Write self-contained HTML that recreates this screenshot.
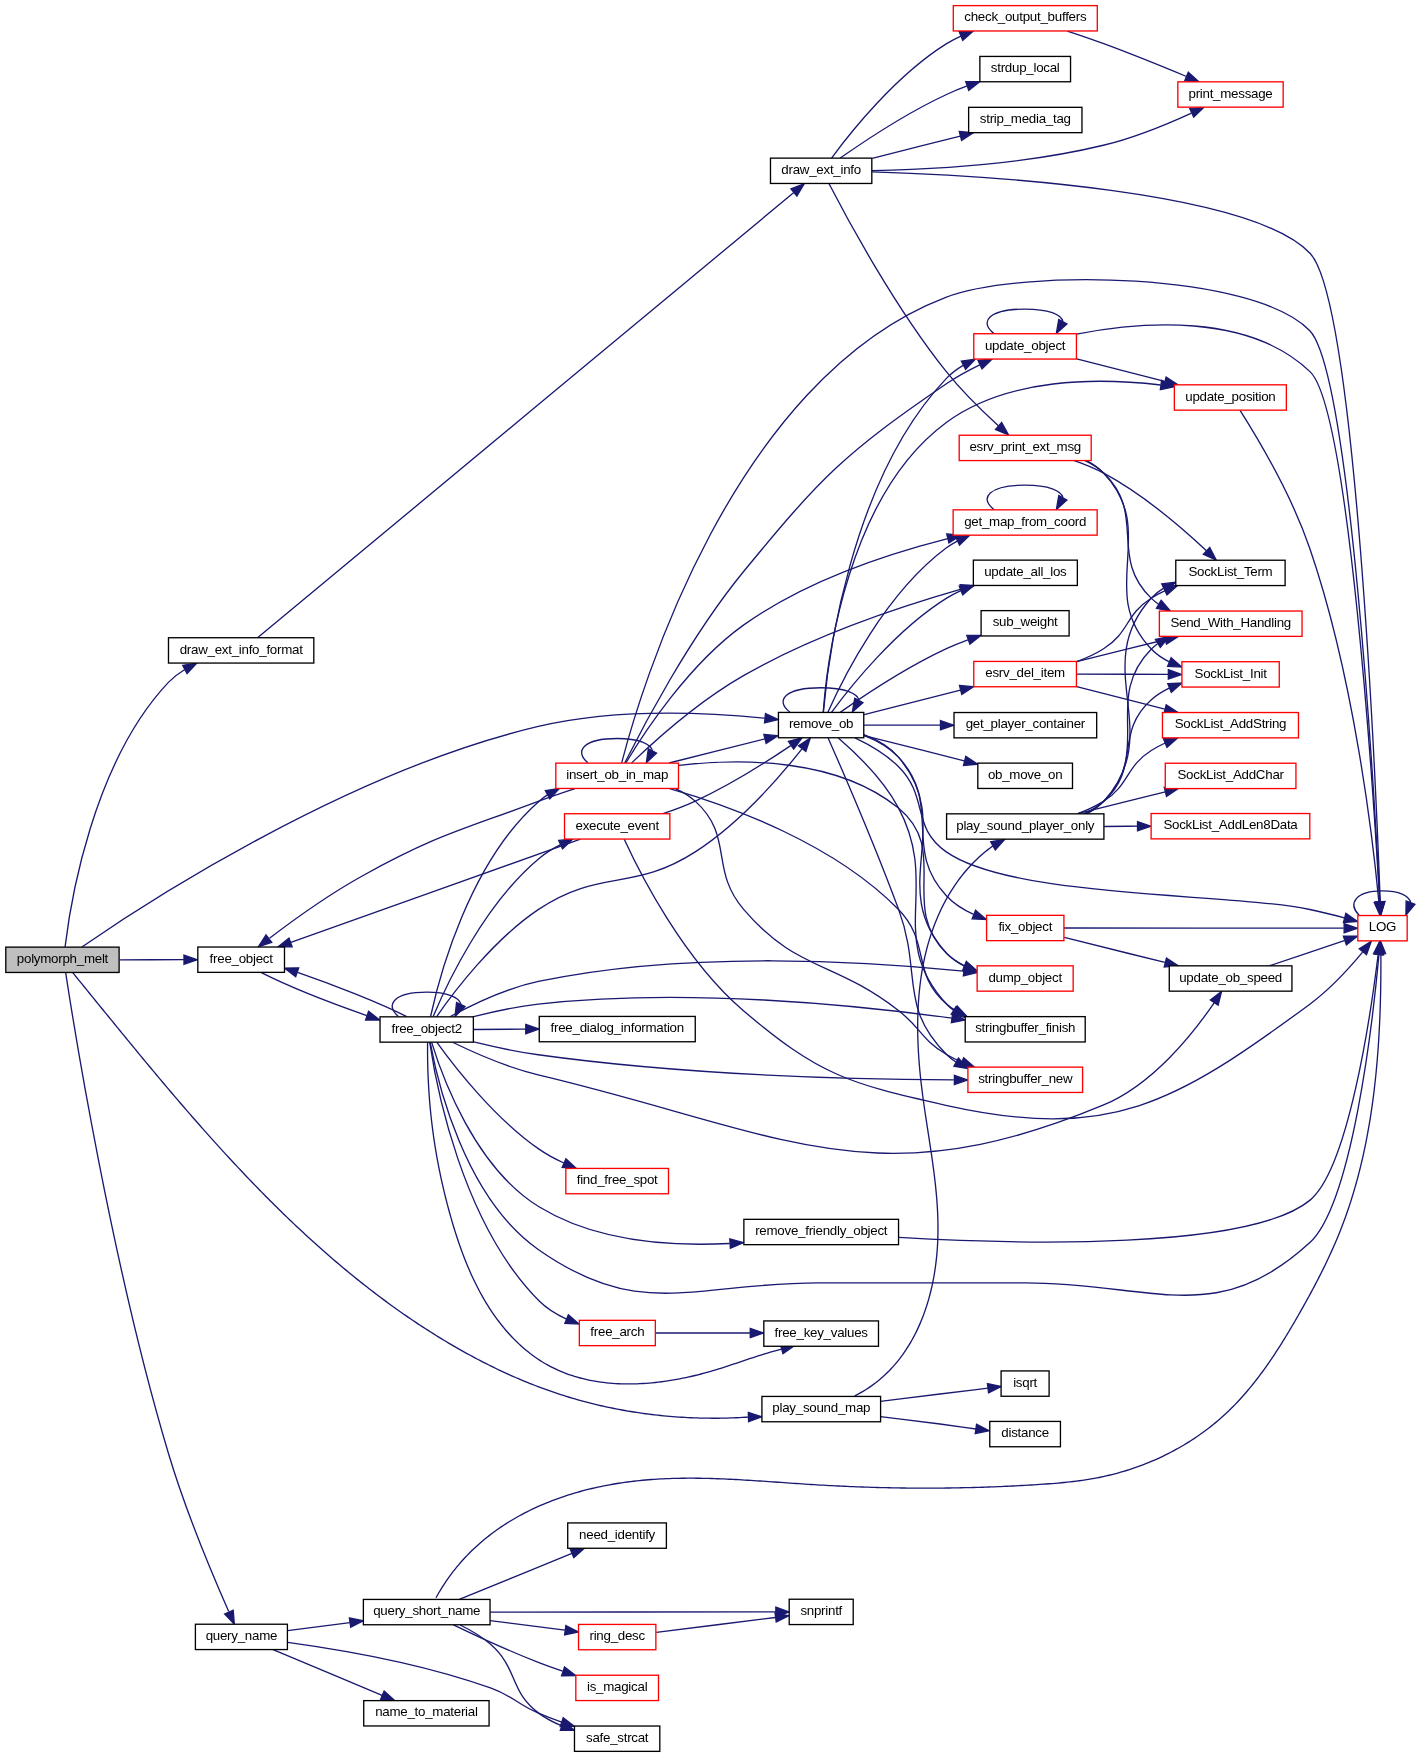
<!DOCTYPE html>
<html><head><meta charset="utf-8"><title>polymorph_melt call graph</title>
<style>
html,body{margin:0;padding:0;background:#fff;overflow:hidden;}
svg{display:block;will-change:transform;}
text{font-family:"Liberation Sans",sans-serif;font-size:13.33px;text-anchor:middle;fill:#000;letter-spacing:-0.26px;}
</style></head><body>
<svg width="1416" height="1757" viewBox="0 0 1416 1757">
<rect x="0" y="0" width="1416" height="1757" fill="#fff"/>
<g fill="none" stroke="#191970" stroke-width="1.33">
<path d="M65.08,946.95C70.22,903.9 92.38,763.04 168.39,682.4C173.12,677.39 178.77,673.11 184.8,669.47"/>
<path d="M119.53,959.8C140.09,959.77 163.27,959.73 183.86,959.7"/>
<path d="M81.9,946.95C142.89,904.89 346.5,771.53 538.34,726.44C615.31,708.35 707.43,712.57 764.89,718.14"/>
<path d="M72.7,972.6 L74.59,974.91 L76.47,977.23 L78.36,979.55 L80.24,981.87 L82.13,984.19 L84.02,986.51 L85.91,988.84 L87.79,991.16 L89.68,993.49 L91.57,995.81 L93.46,998.14 L95.36,1000.47 L97.25,1002.8 L99.14,1005.13 L101.04,1007.46 L102.93,1009.79 L104.83,1012.12 L106.73,1014.45 L108.63,1016.78 L110.53,1019.11 L112.43,1021.45 L114.33,1023.78 L116.23,1026.11 L118.14,1028.45 L120.05,1030.78 L121.96,1033.11 L123.87,1035.44 L125.78,1037.78 L127.69,1040.11 L129.6,1042.44 L131.52,1044.77 L133.44,1047.1 L135.36,1049.43 L137.28,1051.76 L139.2,1054.09 L141.13,1056.42 L143.06,1058.75 L144.99,1061.07 L146.92,1063.4 L148.85,1065.72 L150.79,1068.04 L152.72,1070.37 L154.66,1072.69 L156.61,1075.01 L158.55,1077.32 L160.5,1079.64 L162.45,1081.96 L164.4,1084.27 L166.35,1086.58 L168.31,1088.89 L170.26,1091.2 L172.23,1093.51 L174.19,1095.81 L176.16,1098.11 L178.13,1100.41 L180.1,1102.71 L182.07,1105.01 L184.05,1107.3 L186.03,1109.59 L188.01,1111.88 L190,1114.17 L191.99,1116.45 L193.98,1118.73 L195.97,1121.01 L197.97,1123.29 L199.97,1125.56 L201.98,1127.83 L203.98,1130.1 L206,1132.36 L208.01,1134.62 L210.03,1136.88 L212.05,1139.14 L214.07,1141.39 L216.1,1143.64 L218.13,1145.88 L220.17,1148.12 L222.2,1150.36 L224.25,1152.6 L226.29,1154.83 L228.34,1157.05 L230.39,1159.28 L232.45,1161.5 L234.51,1163.71 L236.58,1165.92 L238.65,1168.13 L240.72,1170.33 L242.79,1172.53 L244.87,1174.73 L246.96,1176.92 L249.05,1179.1 L251.14,1181.28 L253.24,1183.46 L255.34,1185.63 L257.45,1187.8 L259.56,1189.96 L261.67,1192.12 L263.79,1194.27 L265.91,1196.42 L268.04,1198.56 L270.17,1200.7 L272.31,1202.83 L274.45,1204.96 L276.6,1207.08 L278.75,1209.2 L280.9,1211.31 L283.06,1213.42 L285.23,1215.52 L287.4,1217.61 L289.57,1219.7 L291.75,1221.78 L293.94,1223.86 L296.13,1225.93 L298.32,1228 L300.52,1230.06 L302.73,1232.11 L304.94,1234.16 L307.16,1236.2 L309.38,1238.23 L311.6,1240.26 L313.84,1242.28 L316.07,1244.3 L318.32,1246.31 L320.56,1248.31 L322.82,1250.3 L325.08,1252.29 L327.34,1254.27 L329.61,1256.25 L331.89,1258.22 L334.17,1260.18 L336.46,1262.13 L338.75,1264.08 L341.05,1266.02 L343.36,1267.95 L345.67,1269.87 L347.99,1271.79 L350.31,1273.7 L352.64,1275.6 L354.98,1277.49 L357.32,1279.38 L359.67,1281.26 L362.02,1283.13 L364.38,1284.99 L366.75,1286.85 L369.12,1288.7 L371.5,1290.53 L373.89,1292.36 L376.28,1294.19 L378.68,1296 L381.09,1297.81 L383.5,1299.6 L385.92,1301.39 L388.34,1303.17 L390.78,1304.94 L393.21,1306.71 L395.66,1308.46 L398.11,1310.2 L400.57,1311.94 L403.04,1313.67 L405.51,1315.39 L408,1317.09 L410.48,1318.79 L412.98,1320.48 L415.48,1322.16 L417.99,1323.84 L420.51,1325.5 L423.03,1327.15 L425.56,1328.79 L428.1,1330.42 L430.64,1332.04 L433.2,1333.66 L435.75,1335.26 L438.32,1336.84 L440.89,1338.42 L443.47,1339.99 L446.06,1341.55 L448.65,1343.09 L451.25,1344.62 L453.86,1346.14 L456.47,1347.65 L459.09,1349.15 L461.72,1350.64 L464.35,1352.11 L466.99,1353.57 L469.64,1355.01 L472.3,1356.45 L474.96,1357.87 L477.62,1359.28 L480.3,1360.67 L482.98,1362.05 L485.67,1363.42 L488.36,1364.77 L491.06,1366.11 L493.77,1367.44 L496.48,1368.75 L499.2,1370.04 L501.93,1371.32 L504.66,1372.59 L507.4,1373.84 L510.14,1375.08 L512.89,1376.3 L515.65,1377.51 L518.42,1378.7 L521.19,1379.87 L523.96,1381.03 L526.75,1382.17 L529.54,1383.29 L532.33,1384.4 L535.13,1385.5 L537.94,1386.57 L540.76,1387.63 L543.58,1388.67 L546.4,1389.7 L549.24,1390.7 L552.07,1391.69 L554.92,1392.67 L557.77,1393.62 L560.63,1394.56 L563.49,1395.47 L566.36,1396.37 L569.23,1397.25 L572.11,1398.12 L575,1398.96 L577.89,1399.79 L580.79,1400.59 L583.69,1401.38 L586.59,1402.15 L589.51,1402.9 L592.43,1403.64 L595.35,1404.35 L598.28,1405.05 L601.21,1405.73 L604.14,1406.39 L607.09,1407.03 L610.03,1407.66 L612.98,1408.26 L615.94,1408.85 L618.89,1409.42 L621.86,1409.98 L624.82,1410.51 L627.79,1411.03 L630.77,1411.52 L633.74,1412 L636.72,1412.46 L639.71,1412.91 L642.69,1413.33 L645.68,1413.74 L648.68,1414.13 L651.67,1414.51 L654.67,1414.86 L657.68,1415.2 L660.68,1415.51 L663.69,1415.82 L666.7,1416.1 L669.71,1416.36 L672.72,1416.61 L675.74,1416.84 L678.76,1417.05 L681.78,1417.25 L684.8,1417.42 L687.82,1417.58 L690.85,1417.72 L693.87,1417.85 L696.9,1417.95 L699.93,1418.04 L702.96,1418.11 L705.99,1418.17 L709.02,1418.2 L712.06,1418.22 L715.09,1418.22 L718.12,1418.21 L721.16,1418.17 L724.19,1418.12 L727.23,1418.05 L730.26,1417.96 L733.3,1417.86 L736.34,1417.74 L739.37,1417.6 L742.41,1417.45 L745.44,1417.27 L748.48,1417.09"/>
<path d="M65.66,972.57C74.38,1029.47 112.25,1265.51 168.32,1452.96C185.67,1510.97 213.27,1576.5 228.72,1611.55"/>
<path d="M257.83,637.56C336.61,572.15 693.69,275.67 793.82,192.55"/>
<path d="M831.56,158.05C850.28,132.65 895.61,75.54 946.62,43.68C951.09,40.89 955.88,38.37 960.83,36.1"/>
<path d="M871.98,170.69C928.61,169.51 1023.89,164.49 1103.35,145.25C1134,137.84 1166.98,124.28 1191.49,113.03"/>
<path d="M829.04,183.75C846.08,216.78 894.04,306.22 946.52,371.96C962.16,391.55 982.48,411.32 998.36,425.77"/>
<path d="M872.19,171.89C984.18,175.46 1251.13,190.54 1310.22,253.49C1355.38,301.6 1375.83,782.83 1380.23,901.75"/>
<path d="M840.23,158.08C863.67,141.65 906.63,113.04 946.53,94.49C953.1,91.43 960.14,88.57 967.2,85.97"/>
<path d="M872.26,158.28C898.84,151.56 931.84,143.22 960.27,136.03"/>
<path d="M1067.34,31.09C1079.13,34.97 1091.99,39.37 1103.73,43.69C1131.51,53.94 1162.34,66.46 1186.46,76.51"/>
<path d="M1085.07,460.69C1091.93,463.95 1098.4,468.06 1103.81,473.21C1146.87,514.29 1108.28,557.35 1151.39,598.38C1153.61,600.48 1156,602.41 1158.53,604.18"/>
<path d="M1086.33,460.57C1092.83,463.86 1098.88,468 1103.82,473.22C1159.52,531.93 1095.53,590.45 1151.31,649.08C1156.39,654.42 1162.62,658.63 1169.29,661.96"/>
<path d="M1074.25,460.59C1084.27,464.05 1094.57,468.23 1103.72,473.17C1143.18,494.42 1182.64,528.46 1206.42,550.74"/>
<path d="M1359.07,915.19C1347.67,903.44 1355.49,890.87 1382.5,890.87C1399.38,890.87 1408.77,895.79 1410.65,902.33"/>
<path d="M260.87,972.43C285.54,984.91 330.15,1002.84 366.81,1015.59"/>
<path d="M430.21,1042.7C437.43,1081.82 464.45,1197.68 538.23,1249.51C640.85,1321.59 693.07,1282.84 818.49,1282.85C818.49,1282.85 818.49,1282.85 1025.32,1282.85C1152.89,1282.85 1215.68,1329.18 1309.59,1242.86C1352.17,1203.71 1372.63,1023.17 1378.97,954.67"/>
<path d="M406.73,1016.65C381.22,1003.77 334.71,985.16 297.56,972.41"/>
<path d="M398.34,1016.49C384.54,1004.74 393.99,992.17 426.7,992.17C447.65,992.17 459.06,997.33 460.93,1004.13"/>
<path d="M449.89,1016.78C471.56,1004.99 506.03,988.27 538.36,981.44C688.63,949.66 870.93,961.6 963.6,971.13"/>
<path d="M433.17,1016.49C446.32,985.1 483.81,904.51 539.07,858.45C545.35,853.22 552.6,848.72 560.09,844.91"/>
<path d="M436.51,1016.79C453.31,992.62 493.07,939.8 538.57,909.38C600.19,868.18 632.95,892.07 695.24,851.89C739.29,823.47 779.72,776.98 801.97,748.89"/>
<path d="M452.62,1042.27C474.47,1052.94 507.57,1067.56 538.16,1074.8C782.78,1132.69 870.88,1201.7 1103.04,1105.23C1152.96,1084.49 1193.36,1033.38 1214.11,1002.77"/>
<path d="M472.59,1016.82C492.52,1011.8 516.39,1006.63 538.29,1004.14C684.47,987.53 856.65,1005.15 951.77,1018.11"/>
<path d="M473.73,1041.9C493.46,1046.72 516.86,1051.8 538.29,1054.78C685.1,1075.18 858.97,1079.34 953.81,1079.95"/>
<path d="M436.9,1042.41C454.14,1066.34 494.22,1118.11 538.97,1149.16C546.56,1154.44 555.17,1159.05 563.8,1163.02"/>
<path d="M429.67,1042.21C435.95,1084.63 461.76,1223.35 539.22,1301.05C546.82,1308.67 556.52,1314.56 566.46,1319.08"/>
<path d="M427.6,1042.3 L427.57,1045.4 L427.56,1048.5 L427.56,1051.58 L427.58,1054.66 L427.61,1057.74 L427.65,1060.8 L427.71,1063.86 L427.78,1066.91 L427.87,1069.96 L427.97,1073 L428.09,1076.04 L428.22,1079.06 L428.37,1082.09 L428.53,1085.1 L428.7,1088.12 L428.89,1091.12 L429.09,1094.13 L429.31,1097.12 L429.54,1100.12 L429.79,1103.1 L430.05,1106.09 L430.33,1109.07 L430.62,1112.05 L430.92,1115.02 L431.25,1117.99 L431.58,1120.95 L431.93,1123.92 L432.3,1126.88 L432.68,1129.83 L433.07,1132.79 L433.48,1135.74 L433.9,1138.69 L434.34,1141.64 L434.8,1144.58 L435.27,1147.52 L435.75,1150.47 L436.25,1153.41 L436.77,1156.35 L437.3,1159.29 L437.84,1162.22 L438.4,1165.16 L438.98,1168.1 L439.57,1171.03 L440.17,1173.97 L440.79,1176.91 L441.43,1179.84 L442.08,1182.78 L442.75,1185.72 L443.43,1188.66 L444.12,1191.59 L444.84,1194.54 L445.57,1197.48 L446.31,1200.42 L447.07,1203.36 L447.84,1206.31 L448.63,1209.26 L449.44,1212.21 L450.26,1215.16 L451.1,1218.12 L451.95,1221.07 L452.82,1224.02 L453.71,1226.98 L454.62,1229.93 L455.54,1232.87 L456.49,1235.82 L457.46,1238.76 L458.44,1241.69 L459.45,1244.62 L460.48,1247.54 L461.53,1250.46 L462.61,1253.36 L463.71,1256.26 L464.83,1259.15 L465.97,1262.02 L467.14,1264.89 L468.34,1267.74 L469.56,1270.58 L470.81,1273.41 L472.08,1276.22 L473.39,1279.01 L474.72,1281.79 L476.08,1284.55 L477.47,1287.3 L478.89,1290.02 L480.33,1292.73 L481.81,1295.42 L483.32,1298.08 L484.87,1300.72 L486.44,1303.35 L488.05,1305.94 L489.69,1308.52 L491.36,1311.06 L493.07,1313.59 L494.82,1316.08 L496.6,1318.55 L498.42,1320.99 L500.27,1323.4 L502.16,1325.78 L504.09,1328.13 L506.05,1330.45 L508.06,1332.74 L510.1,1335 L512.18,1337.22 L514.3,1339.4 L516.46,1341.54 L518.65,1343.64 L520.88,1345.7 L523.14,1347.71 L525.44,1349.68 L527.77,1351.6 L530.13,1353.47 L532.53,1355.28 L534.95,1357.04 L537.41,1358.74 L539.89,1360.38 L542.41,1361.97 L544.95,1363.49 L547.52,1364.95 L550.11,1366.35 L552.74,1367.69 L555.38,1368.97 L558.06,1370.2 L560.75,1371.36 L563.47,1372.47 L566.21,1373.53 L568.97,1374.53 L571.76,1375.47 L574.56,1376.37 L577.38,1377.2 L580.22,1377.99 L583.08,1378.72 L585.96,1379.4 L588.85,1380.04 L591.76,1380.62 L594.69,1381.15 L597.63,1381.63 L600.58,1382.07 L603.55,1382.46 L606.52,1382.8 L609.51,1383.1 L612.51,1383.35 L615.52,1383.56 L618.54,1383.72 L621.57,1383.84 L624.61,1383.92 L627.65,1383.95 L630.7,1383.95 L633.75,1383.9 L636.81,1383.82 L639.88,1383.69 L642.95,1383.53 L646.02,1383.33 L649.09,1383.09 L652.16,1382.81 L655.24,1382.5 L658.31,1382.16 L661.39,1381.78 L664.46,1381.37 L667.53,1380.92 L670.6,1380.44 L673.66,1379.93 L676.72,1379.39 L679.78,1378.81 L682.83,1378.21 L685.87,1377.58 L688.9,1376.92 L691.93,1376.23 L694.95,1375.52 L697.96,1374.78 L700.96,1374.01 L703.94,1373.22 L706.92,1372.41 L709.88,1371.57 L712.83,1370.7 L715.77,1369.82 L718.7,1368.92 L721.62,1368.01 L724.53,1367.08 L727.43,1366.13 L730.32,1365.18 L733.2,1364.23 L736.08,1363.27 L738.95,1362.3 L741.81,1361.34 L744.67,1360.38 L747.53,1359.42 L750.38,1358.47 L753.23,1357.53 L756.08,1356.6 L758.92,1355.69 L761.77,1354.79 L764.62,1353.9 L767.46,1353.04 L770.31,1352.2 L773.16,1351.39 L776.02,1350.6 L778.88,1349.84 L781.74,1349.12"/>
<path d="M473.7,1029.5C489.46,1029.38 507.65,1029.24 525.69,1029.1"/>
<path d="M430.58,1016.51C438.98,977.83 469,862.44 539.11,801.15C541.71,798.88 544.51,796.8 547.46,794.92"/>
<path d="M431.57,1042.18C441.84,1075.79 474.8,1167.39 538.97,1206.75C595.6,1241.48 671.18,1246.49 729.73,1243.52"/>
<path d="M624.24,839.29C639.28,871.98 683.01,959.13 743.19,1010.51C818.83,1075.06 848.8,1083.69 945.85,1105.29C1109.78,1141.77 1174.79,1103.89 1309.84,1004.16C1329.98,989.3 1349.19,968.3 1362.59,952.15"/>
<path d="M580.43,839.15C513.05,863.15 367.21,915.1 290.87,942.3"/>
<path d="M663,813.64C673.76,810.03 685.12,805.79 695.34,801.07C729.58,785.26 766.12,762.16 790.7,745.58"/>
<path d="M855.01,737.87C869.54,744.75 886.09,754.34 898.38,766.47C929.32,797.05 910.57,827.04 946.26,851.89C1013.41,898.69 1229.79,892.69 1309.87,909.51C1321.14,911.88 1333.28,914.88 1344.31,917.8"/>
<path d="M863.94,734.73C876.6,739.53 889.52,746.65 898.44,757.11C956.65,825.37 885.52,887.36 946.48,953.16C951.52,958.6 957.75,962.89 964.46,966.25"/>
<path d="M789.86,712.09C774.67,700.34 785.07,687.77 821.1,687.77C844.74,687.77 857.35,693.18 858.93,700.23"/>
<path d="M864.15,714.61C891.97,707.51 929.05,698.05 960.47,690.03"/>
<path d="M863.77,735.37C876.28,740.22 889.16,747.2 898.46,757.14C943.08,804.79 901.79,848.46 946.56,895.97C954,903.86 963.66,909.87 973.62,914.44"/>
<path d="M827.87,712.26C842.29,679.78 884.62,593.71 946.48,547.83C949.83,545.34 953.44,543.1 957.2,541.06"/>
<path d="M864.15,725.1C886.2,725.13 914.04,725.17 940.31,725.2"/>
<path d="M864.15,735.59C893.09,742.88 932.05,752.7 964.26,760.81"/>
<path d="M838.34,737.99C855.73,752.97 883.17,779.27 898.46,807.82C940.83,886.92 885.56,938.12 946.53,1003.96C948.64,1006.24 950.95,1008.31 953.43,1010.19"/>
<path d="M828.1,737.91C841.21,767.69 874.31,843.98 898.51,909.12C922.2,972.9 898.39,1006.42 946.58,1054.47C949.39,1057.27 952.53,1059.77 955.86,1061.99"/>
<path d="M840.18,712.38C863.61,695.93 906.55,667.29 946.43,648.71C953.25,645.54 960.57,642.58 967.87,639.87"/>
<path d="M831.51,712.35C850.25,686.98 895.62,629.95 946.66,598.16C951.13,595.38 955.93,592.86 960.88,590.6"/>
<path d="M823.38,712.17C827.69,662.26 849.67,480.01 946.43,378.4C951.26,373.33 957.01,369.04 963.15,365.41"/>
<path d="M823.23,711.93C826.88,663.76 846.53,496.08 945.99,422.67C1007.59,377.21 1098.54,377.64 1160.59,385.03"/>
<path d="M1076.7,661.58C1103.38,654.98 1136.5,646.79 1165.03,639.73"/>
<path d="M1076.7,674.1C1104.36,674.19 1138.96,674.3 1168.17,674.4"/>
<path d="M1076.75,661.65C1086.06,658.23 1095.42,654 1103.61,648.8C1129.67,632.23 1125.13,614.74 1151.2,598.22C1155.59,595.44 1160.3,592.93 1165.17,590.69"/>
<path d="M1076.7,686.62C1103.3,693.43 1136.33,701.89 1164.78,709.17"/>
<path d="M1063.94,928C1131.99,928.05 1275.62,928.15 1343.73,928.2"/>
<path d="M1064.36,937.41C1092.53,944.43 1131.8,954.22 1164.91,962.46"/>
<path d="M1269.61,965.71C1292.49,958.05 1321.54,948.33 1344.27,940.72"/>
<path d="M993.91,509.49C978.72,497.74 989.12,485.17 1025.15,485.17C1048.79,485.17 1061.4,490.58 1062.98,497.63"/>
<path d="M1076.62,334.04C1140.05,321.76 1248.41,312.29 1310.24,371.88C1348.97,409.21 1373.7,797.13 1379.71,902.13"/>
<path d="M993.86,333.39C978.67,321.64 989.07,309.07 1025.1,309.07C1048.74,309.07 1061.35,314.48 1062.93,321.53"/>
<path d="M1076.7,358.92C1103.27,365.73 1136.26,374.19 1164.68,381.47"/>
<path d="M1239.92,410.22C1255.89,435.48 1291.11,494.15 1309.73,548.18C1353.98,676.59 1372.91,839.4 1378.9,902.01"/>
<path d="M655.5,1333C670.33,1333 684.71,1333 700,1333C716.25,1333 733.51,1333 750.27,1333"/>
<path d="M621.68,762.81C639.27,694.75 731.39,379.15 945.82,297.29C1021.7,268.32 1253.59,272.1 1309.83,330.72C1349.97,372.56 1374.15,791.36 1379.86,901.68"/>
<path d="M575,788.57C563.25,792.41 550.48,796.77 538.85,801.12C459.22,830.96 437.08,834.64 362.69,875.73C329.05,894.32 293.25,920.12 269.51,938.21"/>
<path d="M679,765.39C741,758.34 836.69,757.9 898.15,807.82C951.02,850.75 898.2,905.12 946.45,953.17C951.65,958.34 957.93,962.46 964.62,965.74"/>
<path d="M669.12,763.01C698.31,755.68 734.95,746.48 764.83,738.97"/>
<path d="M625.84,763C642.98,734.4 688.15,664.7 743.45,625.15C805.19,580.98 888.06,553.76 947.7,538.54"/>
<path d="M669.68,788.59C731.2,806.31 834,843.76 898.28,909.24C931.38,942.95 910.63,973.22 946.51,1003.96C949.15,1006.22 951.98,1008.27 954.97,1010.15"/>
<path d="M675.48,788.56C682.66,791.84 689.46,795.96 695.19,801.13C734.21,836.39 709.33,869.11 743.43,909.13C796.8,971.75 833.43,960.01 898.44,1010.47C921.33,1028.23 921.52,1039.85 946.55,1054.47C951.36,1057.28 956.53,1059.81 961.82,1062.12"/>
<path d="M631.66,762.88C653.41,742.15 698.83,701.24 743.48,675.67C813.68,635.48 902.45,606.08 961.15,589.23"/>
<path d="M624.7,763.07C641.31,729.74 689.16,637.96 743.41,571.77C821.35,476.66 844.77,453.01 946.39,383.74C956.7,376.71 968.53,370.29 979.78,364.84"/>
<path d="M587.96,762.79C573.78,751.04 583.5,738.47 617.15,738.47C639.23,738.47 651.02,743.88 652.5,750.93"/>
<path d="M898.87,1237.43C1020.1,1244.42 1249.35,1250.29 1310.1,1200.12C1348.22,1168.63 1370.52,1016.42 1378.15,954.49"/>
<path d="M880.4,1416.7C900.27,1419.13 922.65,1421.74 940,1424C953.48,1425.76 963.93,1427.31 975.9,1428.97"/>
<path d="M880.4,1401.4C900.27,1398.93 921.21,1396.3 940,1394C956.85,1391.93 971.98,1390.13 987.97,1388.2"/>
<path d="M854.8,1395.8 L857.59,1394.38 L860.33,1392.89 L863.01,1391.35 L865.64,1389.75 L868.21,1388.1 L870.73,1386.39 L873.2,1384.63 L875.62,1382.82 L877.98,1380.96 L880.29,1379.05 L882.55,1377.09 L884.76,1375.08 L886.91,1373.03 L889.02,1370.93 L891.07,1368.79 L893.08,1366.6 L895.04,1364.38 L896.95,1362.11 L898.81,1359.8 L900.62,1357.45 L902.38,1355.07 L904.09,1352.64 L905.76,1350.19 L907.38,1347.69 L908.96,1345.17 L910.49,1342.61 L911.97,1340.02 L913.41,1337.4 L914.8,1334.75 L916.15,1332.08 L917.45,1329.37 L918.71,1326.64 L919.92,1323.89 L921.1,1321.11 L922.23,1318.31 L923.31,1315.49 L924.36,1312.64 L925.36,1309.78 L926.32,1306.9 L927.24,1304 L928.12,1301.08 L928.96,1298.15 L929.76,1295.21 L930.52,1292.25 L931.24,1289.28 L931.92,1286.3 L932.57,1283.31 L933.17,1280.31 L933.74,1277.3 L934.27,1274.29 L934.76,1271.27 L935.22,1268.24 L935.64,1265.22 L936.02,1262.19 L936.37,1259.16 L936.68,1256.12 L936.96,1253.09 L937.2,1250.06 L937.41,1247.04 L937.58,1244.02 L937.73,1241 L937.84,1237.98 L937.92,1234.97 L937.97,1231.96 L937.99,1228.96 L937.98,1225.96 L937.94,1222.96 L937.88,1219.96 L937.79,1216.97 L937.67,1213.98 L937.54,1210.99 L937.37,1208 L937.19,1205.02 L936.98,1202.04 L936.76,1199.05 L936.51,1196.08 L936.25,1193.1 L935.96,1190.12 L935.66,1187.15 L935.35,1184.17 L935.02,1181.2 L934.67,1178.22 L934.31,1175.25 L933.94,1172.28 L933.55,1169.31 L933.15,1166.34 L932.75,1163.37 L932.33,1160.4 L931.91,1157.43 L931.48,1154.45 L931.04,1151.48 L930.59,1148.51 L930.15,1145.53 L929.69,1142.56 L929.24,1139.58 L928.78,1136.61 L928.32,1133.63 L927.85,1130.65 L927.39,1127.67 L926.93,1124.68 L926.48,1121.7 L926.02,1118.71 L925.57,1115.72 L925.12,1112.73 L924.68,1109.73 L924.25,1106.74 L923.82,1103.74 L923.4,1100.73 L922.99,1097.73 L922.59,1094.72 L922.2,1091.7 L921.82,1088.69 L921.46,1085.67 L921.1,1082.64 L920.77,1079.62 L920.44,1076.58 L920.13,1073.55 L919.84,1070.51 L919.57,1067.47 L919.31,1064.42 L919.07,1061.38 L918.84,1058.33 L918.64,1055.28 L918.45,1052.23 L918.28,1049.17 L918.13,1046.12 L918.01,1043.07 L917.9,1040.01 L917.81,1036.96 L917.74,1033.91 L917.7,1030.86 L917.68,1027.81 L917.68,1024.76 L917.71,1021.72 L917.75,1018.67 L917.83,1015.63 L917.92,1012.6 L918.04,1009.56 L918.19,1006.53 L918.36,1003.51 L918.56,1000.49 L918.79,997.47 L919.04,994.46 L919.33,991.46 L919.63,988.46 L919.97,985.47 L920.34,982.48 L920.74,979.5 L921.16,976.53 L921.62,973.57 L922.11,970.61 L922.63,967.66 L923.18,964.72 L923.76,961.79 L924.38,958.87 L925.03,955.96 L925.71,953.06 L926.43,950.17 L927.18,947.29 L927.97,944.42 L928.79,941.57 L929.65,938.72 L930.54,935.89 L931.47,933.07 L932.44,930.26 L933.45,927.47 L934.49,924.68 L935.58,921.92 L936.7,919.16 L937.86,916.43 L939.06,913.7 L940.3,911 L941.59,908.31 L942.91,905.63 L944.28,902.98 L945.68,900.35 L947.13,897.74 L948.62,895.15 L950.16,892.59 L951.74,890.04 L953.36,887.53 L955.02,885.04 L956.73,882.58 L958.49,880.14 L960.29,877.74 L962.13,875.37 L964.02,873.02 L965.96,870.71 L967.94,868.44 L969.98,866.19 L972.05,863.98 L974.18,861.81 L976.35,859.68 L978.58,857.58 L980.85,855.53 L983.17,853.51 L985.54,851.54 L987.96,849.61 L990.43,847.72 L992.95,845.88"/>
<path d="M1085.8,813.83C1092.47,810.54 1098.71,806.39 1103.87,801.15C1153.53,750.76 1101.65,699.37 1151.39,649.04C1153.3,647.1 1155.36,645.31 1157.53,643.66"/>
<path d="M1083.96,813.67C1091.17,810.4 1098.04,806.29 1103.84,801.15C1141.05,768.18 1114.08,732.68 1151.34,699.74C1156.6,695.1 1162.72,691.31 1169.16,688.2"/>
<path d="M1086.93,813.79C1093.26,810.49 1099.09,806.35 1103.86,801.15C1166.29,732.93 1088.65,666.39 1151.16,598.25C1154.78,594.3 1159.04,590.94 1163.64,588.13"/>
<path d="M1077.72,813.74C1086.75,810.38 1095.79,806.24 1103.73,801.17C1129.75,784.58 1125.19,767.08 1151.22,750.53C1155.6,747.74 1160.31,745.24 1165.17,742.99"/>
<path d="M1077.89,813.71C1104.41,807.08 1137.08,798.91 1165.24,791.86"/>
<path d="M1104.04,826.5C1114.99,826.4 1126.34,826.3 1137.53,826.2"/>
<path d="M273.08,1649.62C302.91,1662.12 348.52,1681.23 382.08,1695.29"/>
<path d="M287.56,1630.63C306.37,1628.22 328.66,1625.37 349.85,1622.65"/>
<path d="M287.76,1642.29C338.32,1649.25 421.93,1663.43 490.47,1687.9C513.38,1696.09 516.54,1703.85 538.95,1713.33C546.2,1716.39 553.96,1719.34 561.67,1722.06"/>
<path d="M436,1597.8 L437.55,1595.02 L439.13,1592.28 L440.75,1589.58 L442.41,1586.91 L444.1,1584.28 L445.82,1581.69 L447.58,1579.14 L449.38,1576.62 L451.2,1574.14 L453.06,1571.7 L454.95,1569.29 L456.87,1566.93 L458.82,1564.59 L460.81,1562.3 L462.82,1560.03 L464.87,1557.81 L466.94,1555.62 L469.04,1553.46 L471.17,1551.34 L473.33,1549.26 L475.51,1547.21 L477.73,1545.19 L479.97,1543.21 L482.23,1541.27 L484.52,1539.35 L486.84,1537.47 L489.18,1535.63 L491.54,1533.82 L493.93,1532.04 L496.35,1530.29 L498.78,1528.58 L501.24,1526.9 L503.72,1525.25 L506.22,1523.63 L508.74,1522.05 L511.28,1520.5 L513.85,1518.98 L516.43,1517.49 L519.03,1516.03 L521.65,1514.6 L524.29,1513.21 L526.94,1511.84 L529.62,1510.51 L532.31,1509.21 L535.02,1507.93 L537.74,1506.69 L540.48,1505.48 L543.23,1504.29 L546,1503.14 L548.78,1502.01 L551.58,1500.91 L554.38,1499.85 L557.21,1498.81 L560.04,1497.8 L562.89,1496.81 L565.74,1495.86 L568.61,1494.93 L571.49,1494.04 L574.38,1493.16 L577.27,1492.32 L580.18,1491.5 L583.1,1490.71 L586.02,1489.95 L588.95,1489.22 L591.89,1488.51 L594.83,1487.82 L597.79,1487.16 L600.74,1486.53 L603.7,1485.93 L606.67,1485.34 L609.64,1484.79 L612.62,1484.26 L615.6,1483.75 L618.58,1483.27 L621.56,1482.82 L624.55,1482.38 L627.54,1481.98 L630.53,1481.59 L633.52,1481.23 L636.51,1480.89 L639.51,1480.58 L642.5,1480.28 L645.5,1480.01 L648.49,1479.76 L651.49,1479.53 L654.49,1479.32 L657.49,1479.13 L660.49,1478.96 L663.5,1478.8 L666.5,1478.67 L669.5,1478.55 L672.51,1478.45 L675.51,1478.37 L678.52,1478.3 L681.53,1478.25 L684.53,1478.22 L687.54,1478.2 L690.55,1478.19 L693.56,1478.2 L696.57,1478.22 L699.58,1478.26 L702.6,1478.31 L705.61,1478.37 L708.62,1478.44 L711.64,1478.52 L714.65,1478.61 L717.66,1478.72 L720.68,1478.83 L723.69,1478.96 L726.71,1479.09 L729.72,1479.23 L732.74,1479.38 L735.76,1479.53 L738.77,1479.7 L741.79,1479.86 L744.8,1480.04 L747.82,1480.22 L750.84,1480.41 L753.85,1480.6 L756.87,1480.79 L759.89,1480.99 L762.9,1481.2 L765.92,1481.4 L768.94,1481.61 L771.95,1481.82 L774.97,1482.03 L777.99,1482.24 L781,1482.45 L784.02,1482.66 L787.03,1482.88 L790.05,1483.09 L793.06,1483.3 L796.08,1483.5 L799.09,1483.71 L802.1,1483.91 L805.12,1484.11 L808.13,1484.31 L811.14,1484.5 L814.15,1484.68 L817.16,1484.86 L820.17,1485.04 L823.18,1485.21 L826.19,1485.38 L829.2,1485.54 L832.2,1485.7 L835.21,1485.85 L838.22,1486 L841.23,1486.14 L844.23,1486.28 L847.24,1486.42 L850.24,1486.54 L853.25,1486.67 L856.25,1486.79 L859.26,1486.9 L862.26,1487.01 L865.27,1487.11 L868.27,1487.21 L871.28,1487.3 L874.28,1487.39 L877.29,1487.48 L880.29,1487.56 L883.29,1487.63 L886.3,1487.7 L889.3,1487.76 L892.3,1487.82 L895.31,1487.87 L898.31,1487.92 L901.32,1487.97 L904.32,1488.01 L907.32,1488.04 L910.33,1488.07 L913.33,1488.09 L916.34,1488.11 L919.34,1488.12 L922.35,1488.13 L925.35,1488.14 L928.36,1488.13 L931.36,1488.13 L934.37,1488.11 L937.38,1488.1 L940.39,1488.08 L943.39,1488.05 L946.4,1488.02 L949.41,1487.98 L952.42,1487.94 L955.43,1487.89 L958.44,1487.83 L961.45,1487.78 L964.46,1487.71 L967.47,1487.64 L970.48,1487.57 L973.5,1487.49 L976.51,1487.41 L979.52,1487.32 L982.54,1487.22 L985.56,1487.12 L988.57,1487.02 L991.59,1486.91 L994.61,1486.79 L997.63,1486.67 L1000.65,1486.54 L1003.67,1486.41 L1006.69,1486.27 L1009.71,1486.13 L1012.74,1485.98 L1015.76,1485.83 L1018.79,1485.67 L1021.81,1485.51 L1024.84,1485.34 L1027.87,1485.17 L1030.9,1484.99 L1033.93,1484.8 L1036.96,1484.61 L1039.99,1484.42 L1043.03,1484.21 L1046.06,1484 L1049.09,1483.78 L1052.13,1483.55 L1055.16,1483.3 L1058.19,1483.04 L1061.22,1482.76 L1064.24,1482.47 L1067.26,1482.16 L1070.28,1481.84 L1073.3,1481.49 L1076.31,1481.12 L1079.32,1480.73 L1082.32,1480.31 L1085.31,1479.87 L1088.31,1479.4 L1091.29,1478.9 L1094.27,1478.37 L1097.24,1477.82 L1100.2,1477.23 L1103.16,1476.61 L1106.11,1475.95 L1109.04,1475.27 L1111.97,1474.55 L1114.89,1473.8 L1117.81,1473.02 L1120.71,1472.21 L1123.6,1471.36 L1126.48,1470.49 L1129.35,1469.58 L1132.21,1468.64 L1135.05,1467.67 L1137.89,1466.67 L1140.71,1465.64 L1143.52,1464.58 L1146.31,1463.48 L1149.09,1462.36 L1151.86,1461.21 L1154.62,1460.02 L1157.36,1458.8 L1160.08,1457.56 L1162.79,1456.28 L1165.49,1454.97 L1168.16,1453.64 L1170.83,1452.27 L1173.47,1450.87 L1176.1,1449.45 L1178.71,1447.99 L1181.3,1446.5 L1183.88,1444.99 L1186.43,1443.44 L1188.97,1441.87 L1191.49,1440.26 L1193.99,1438.63 L1196.47,1436.97 L1198.93,1435.28 L1201.37,1433.56 L1203.78,1431.81 L1206.18,1430.03 L1208.56,1428.22 L1210.91,1426.39 L1213.24,1424.53 L1215.55,1422.63 L1217.83,1420.71 L1220.09,1418.76 L1222.33,1416.79 L1224.55,1414.78 L1226.73,1412.75 L1228.9,1410.69 L1231.04,1408.6 L1233.15,1406.49 L1235.25,1404.35 L1237.31,1402.18 L1239.36,1399.99 L1241.38,1397.77 L1243.38,1395.53 L1245.36,1393.27 L1247.32,1390.99 L1249.25,1388.68 L1251.17,1386.36 L1253.06,1384.01 L1254.94,1381.64 L1256.8,1379.26 L1258.63,1376.86 L1260.45,1374.44 L1262.25,1372 L1264.04,1369.55 L1265.81,1367.08 L1267.56,1364.59 L1269.29,1362.1 L1271.01,1359.58 L1272.71,1357.06 L1274.4,1354.52 L1276.07,1351.98 L1277.73,1349.42 L1279.38,1346.85 L1281.01,1344.27 L1282.63,1341.68 L1284.24,1339.09 L1285.83,1336.49 L1287.42,1333.88 L1288.99,1331.26 L1290.55,1328.64 L1292.1,1326.02 L1293.64,1323.39 L1295.18,1320.75 L1296.7,1318.12 L1298.22,1315.48 L1299.72,1312.84 L1301.22,1310.2 L1302.71,1307.55 L1304.2,1304.91 L1305.67,1302.27 L1307.13,1299.62 L1308.59,1296.97 L1310.03,1294.31 L1311.47,1291.66 L1312.89,1289 L1314.3,1286.34 L1315.7,1283.68 L1317.09,1281.01 L1318.47,1278.34 L1319.83,1275.66 L1321.18,1272.98 L1322.52,1270.3 L1323.85,1267.61 L1325.16,1264.92 L1326.46,1262.22 L1327.74,1259.52 L1329.01,1256.81 L1330.26,1254.09 L1331.5,1251.38 L1332.72,1248.65 L1333.93,1245.92 L1335.12,1243.18 L1336.29,1240.43 L1337.45,1237.68 L1338.58,1234.92 L1339.7,1232.16 L1340.81,1229.38 L1341.89,1226.6 L1342.95,1223.81 L1344,1221.02 L1345.03,1218.21 L1346.04,1215.4 L1347.03,1212.58 L1348,1209.76 L1348.96,1206.93 L1349.9,1204.09 L1350.82,1201.24 L1351.72,1198.39 L1352.6,1195.53 L1353.47,1192.66 L1354.33,1189.79 L1355.16,1186.91 L1355.98,1184.02 L1356.78,1181.13 L1357.56,1178.24 L1358.33,1175.33 L1359.09,1172.43 L1359.82,1169.51 L1360.55,1166.59 L1361.25,1163.67 L1361.94,1160.74 L1362.62,1157.81 L1363.28,1154.87 L1363.92,1151.93 L1364.55,1148.98 L1365.17,1146.03 L1365.77,1143.07 L1366.35,1140.11 L1366.93,1137.15 L1367.48,1134.18 L1368.03,1131.21 L1368.56,1128.23 L1369.08,1125.26 L1369.58,1122.27 L1370.07,1119.29 L1370.55,1116.3 L1371.01,1113.31 L1371.46,1110.31 L1371.9,1107.32 L1372.32,1104.32 L1372.74,1101.31 L1373.14,1098.31 L1373.53,1095.3 L1373.9,1092.29 L1374.27,1089.28 L1374.62,1086.27 L1374.96,1083.26 L1375.29,1080.24 L1375.61,1077.22 L1375.92,1074.2 L1376.22,1071.18 L1376.5,1068.16 L1376.78,1065.14 L1377.05,1062.12 L1377.3,1059.1 L1377.54,1056.07 L1377.78,1053.05 L1378,1050.02 L1378.22,1047 L1378.42,1043.97 L1378.62,1040.95 L1378.81,1037.92 L1378.99,1034.9 L1379.15,1031.87 L1379.31,1028.85 L1379.47,1025.83 L1379.61,1022.8 L1379.74,1019.78 L1379.87,1016.76 L1379.99,1013.74 L1380.1,1010.73 L1380.2,1007.71 L1380.29,1004.7 L1380.38,1001.68 L1380.46,998.67 L1380.54,995.66 L1380.6,992.66 L1380.66,989.65 L1380.71,986.65 L1380.76,983.65 L1380.8,980.65 L1380.83,977.66 L1380.86,974.67 L1380.88,971.68 L1380.89,968.69 L1380.9,965.71 L1380.91,962.73 L1380.91,959.76 L1380.9,956.79 L1380.89,953.82"/>
<path d="M453.46,1624.81C475.76,1635.55 509.08,1651.02 538.91,1662.61C546.51,1665.56 554.62,1668.46 562.6,1671.18"/>
<path d="M459.27,1599.38C490.11,1586.8 537.34,1567.54 571.92,1553.44"/>
<path d="M490.19,1620.54C514.47,1623.67 541.85,1627.2 564.93,1630.19"/>
<path d="M490.26,1612.1C570.04,1612.04 705.94,1611.95 775.79,1611.9"/>
<path d="M460.18,1624.98C470.47,1630 481.47,1636.41 490.28,1644.09C518.7,1668.8 508.7,1690.94 538.97,1713.38C545.8,1718.44 553.72,1722.53 561.8,1725.81"/>
<path d="M656.28,1632.34C690.15,1628.12 739.76,1621.95 775.51,1617.5"/>
</g>
<g fill="#191970" stroke="#191970" stroke-width="1.33">
<polygon points="182.7,665.31 196.67,663.23 187.04,673.56"/>
<polygon points="183.99,955.03 197.32,959.7 183.99,964.37"/>
<polygon points="765.5,713.51 778.27,719.54 764.53,722.79"/>
<polygon points="748.61,1421.75 761.8,1416.7 748.34,1412.42"/>
<polygon points="233.19,1610.13 234.32,1624.21 224.65,1613.91"/>
<polygon points="790.92,188.88 804.15,183.91 796.91,196.04"/>
<polygon points="959.19,31.73 973.3,31.01 962.73,40.38"/>
<polygon points="1189.78,108.69 1203.83,107.26 1193.73,117.14"/>
<polygon points="1001.71,422.5 1008.53,434.86 995.49,429.46"/>
<polygon points="1384.9,901.72 1380.73,915.23 1375.57,902.07"/>
<polygon points="965.69,81.54 979.83,81.57 968.77,90.35"/>
<polygon points="959.3,131.47 973.37,132.73 961.58,140.51"/>
<polygon points="1188.3,72.23 1198.83,81.65 1184.73,80.85"/>
<polygon points="1161.1,600.29 1170.34,610.98 1156.45,608.38"/>
<polygon points="1171.15,657.68 1181.72,667.05 1167.61,666.32"/>
<polygon points="1209.81,547.51 1216.26,560.09 1203.38,554.27"/>
<polygon points="1414.9,904.28 1405.93,915.19 1406.14,901.07"/>
<polygon points="368.59,1011.26 379.71,1019.98 365.59,1020.1"/>
<polygon points="1374.33,954.03 1380.15,941.15 1383.63,954.84"/>
<polygon points="295.7,976.7 284.54,968.05 298.67,967.86"/>
<polygon points="464.99,1006.45 455.06,1016.49 456.55,1002.45"/>
<polygon points="964.35,966.51 977.11,972.58 963.35,975.79"/>
<polygon points="558.65,840.43 572.72,839.13 562.53,848.92"/>
<polygon points="798.45,745.79 810.29,738.09 805.85,751.49"/>
<polygon points="1210.32,1000.03 1221.53,991.43 1218.13,1005.14"/>
<polygon points="952.64,1013.53 965.19,1019.99 951.35,1022.77"/>
<polygon points="954.41,1075.28 967.72,1080.03 954.36,1084.61"/>
<polygon points="565.9,1158.83 576.3,1168.39 562.2,1167.41"/>
<polygon points="568.34,1314.81 578.98,1324.11 564.86,1323.47"/>
<polygon points="782.97,1353.62 794.6,1345.6 780.51,1344.61"/>
<polygon points="525.76,1024.43 539.09,1029.1 525.76,1033.77"/>
<polygon points="545.4,790.73 559.35,788.55 549.8,798.96"/>
<polygon points="729.81,1238.84 743.4,1242.67 730.39,1248.16"/>
<polygon points="1359.25,948.85 1371.25,941.4 1366.51,954.72"/>
<polygon points="292.15,946.79 278.03,946.91 288.99,938.01"/>
<polygon points="788.38,741.51 802.02,737.81 793.67,749.21"/>
<polygon points="1345.87,913.4 1357.53,921.39 1343.43,922.4"/>
<polygon points="966.35,961.97 976.92,971.35 962.82,970.61"/>
<polygon points="862.89,702.7 852.34,712.09 854.74,698.17"/>
<polygon points="959.49,685.46 973.55,686.74 961.77,694.51"/>
<polygon points="975.6,910.2 986.26,919.45 972.14,918.87"/>
<polygon points="955.55,536.67 969.6,535.26 959.51,545.14"/>
<polygon points="940.48,720.53 953.82,725.2 940.48,729.87"/>
<polygon points="965.79,756.39 977.59,764.16 963.51,765.44"/>
<polygon points="956.15,1006.39 965.09,1017.33 951.28,1014.35"/>
<polygon points="958.4,1058.05 967.89,1068.52 953.94,1066.25"/>
<polygon points="966.81,635.31 980.94,635.37 969.86,644.13"/>
<polygon points="959.24,586.23 973.35,585.51 962.78,594.88"/>
<polygon points="961.34,361.11 975.34,359.21 965.57,369.43"/>
<polygon points="1161.54,380.45 1174.16,386.81 1160.34,389.71"/>
<polygon points="1164.21,635.13 1178.27,636.43 1166.46,644.18"/>
<polygon points="1168.35,669.73 1181.68,674.4 1168.35,679.07"/>
<polygon points="1163.44,586.35 1177.54,585.61 1166.98,594.99"/>
<polygon points="1166.21,704.72 1178.02,712.47 1163.96,713.77"/>
<polygon points="1344.14,923.53 1357.47,928.2 1344.14,932.87"/>
<polygon points="1166.47,958.05 1178.28,965.79 1164.21,967.1"/>
<polygon points="1343.38,936.09 1357.5,936.23 1346.38,944.93"/>
<polygon points="1066.94,500.1 1056.39,509.49 1058.79,495.57"/>
<polygon points="1384.38,901.91 1380.47,915.49 1375.06,902.44"/>
<polygon points="1066.89,324 1056.34,333.39 1058.74,319.47"/>
<polygon points="1166.11,377.02 1177.92,384.77 1163.86,386.07"/>
<polygon points="1383.57,901.69 1380.13,915.39 1374.26,902.53"/>
<polygon points="750.27,1337.67 763.6,1333 750.27,1328.33"/>
<polygon points="1384.53,901.57 1380.54,915.13 1375.21,902.05"/>
<polygon points="271.76,942.37 258.38,946.87 266.02,935.01"/>
<polygon points="966.39,961.42 976.98,970.78 962.87,970.06"/>
<polygon points="763.87,734.39 777.94,735.66 766.15,743.45"/>
<polygon points="946.72,533.98 960.79,535.3 948.98,543.03"/>
<polygon points="957.4,1006.15 967.01,1016.5 953.04,1014.41"/>
<polygon points="963.6,1057.8 974.29,1067.03 960.17,1066.48"/>
<polygon points="960.16,584.65 974.26,585.52 962.7,593.64"/>
<polygon points="978.06,360.49 992.11,359.11 981.99,368.96"/>
<polygon points="656.62,753.11 646.34,762.79 648.34,748.81"/>
<polygon points="1373.53,953.81 1379.75,941.13 1382.79,954.92"/>
<polygon points="975.26,1433.6 989.1,1430.8 976.54,1424.35"/>
<polygon points="988.53,1392.84 1001.2,1386.6 987.41,1383.56"/>
<polygon points="995.22,849.96 1004.6,839.4 990.68,841.8"/>
<polygon points="1155.45,639.47 1169.26,636.5 1160.31,647.43"/>
<polygon points="1167.79,683.72 1181.89,683.05 1171.28,692.37"/>
<polygon points="1161.7,583.89 1175.72,582.14 1165.85,592.25"/>
<polygon points="1163.44,738.65 1177.54,737.91 1166.98,747.29"/>
<polygon points="1164.25,787.29 1178.32,788.59 1166.52,796.34"/>
<polygon points="1137.53,821.53 1150.86,826.2 1137.53,830.87"/>
<polygon points="384.12,1691.07 394.61,1700.54 380.52,1699.69"/>
<polygon points="349.42,1617.99 363.27,1620.78 350.71,1627.25"/>
<polygon points="563.26,1717.67 574.36,1726.39 560.24,1726.51"/>
<polygon points="1385.55,953.61 1380.3,940.5 1376.22,954.02"/>
<polygon points="564.58,1666.91 575.72,1675.59 561.59,1675.77"/>
<polygon points="570.26,1549.07 584.37,1548.36 573.78,1557.71"/>
<polygon points="565.87,1625.61 578.45,1632.02 564.61,1634.86"/>
<polygon points="775.83,1607.23 789.16,1611.9 775.83,1616.57"/>
<polygon points="563.47,1721.45 574.46,1730.34 560.32,1730.23"/>
<polygon points="775.05,1612.86 788.87,1615.81 776.23,1622.11"/>
</g>
<g stroke-width="1.33">
<rect x="5.78" y="947.13" width="113.33" height="25.33" fill="#bfbfbf" stroke="#000000"/>
<rect x="168.48" y="637.73" width="145.33" height="25.33" fill="#ffffff" stroke="#000000"/>
<rect x="197.82" y="947.03" width="86.67" height="25.33" fill="#ffffff" stroke="#000000"/>
<rect x="195.4" y="1624.23" width="92" height="25.33" fill="#ffffff" stroke="#000000"/>
<rect x="380.03" y="1016.83" width="93.33" height="25.33" fill="#ffffff" stroke="#000000"/>
<rect x="363.37" y="1599.43" width="126.67" height="25.33" fill="#ffffff" stroke="#000000"/>
<rect x="363.73" y="1700.63" width="125.33" height="25.33" fill="#ffffff" stroke="#000000"/>
<rect x="555.82" y="763.13" width="122.67" height="25.33" fill="#ffffff" stroke="#ff0000"/>
<rect x="564.53" y="813.73" width="105.33" height="25.33" fill="#ffffff" stroke="#ff0000"/>
<rect x="539.25" y="1016.43" width="156" height="25.33" fill="#ffffff" stroke="#000000"/>
<rect x="565.82" y="1168.43" width="102.67" height="25.33" fill="#ffffff" stroke="#ff0000"/>
<rect x="579.35" y="1320.33" width="76" height="25.33" fill="#ffffff" stroke="#ff0000"/>
<rect x="567.72" y="1522.93" width="98.67" height="25.33" fill="#ffffff" stroke="#000000"/>
<rect x="578.53" y="1624.43" width="77.33" height="25.33" fill="#ffffff" stroke="#ff0000"/>
<rect x="575.82" y="1675.23" width="82.67" height="25.33" fill="#ffffff" stroke="#ff0000"/>
<rect x="574.48" y="1726.03" width="85.33" height="25.33" fill="#ffffff" stroke="#000000"/>
<rect x="770.48" y="158.13" width="101.33" height="25.33" fill="#ffffff" stroke="#000000"/>
<rect x="778.43" y="712.43" width="85.33" height="25.33" fill="#ffffff" stroke="#000000"/>
<rect x="743.87" y="1219.33" width="154.67" height="25.33" fill="#ffffff" stroke="#000000"/>
<rect x="763.82" y="1320.93" width="114.67" height="25.33" fill="#ffffff" stroke="#000000"/>
<rect x="761.92" y="1396.43" width="118.67" height="25.33" fill="#ffffff" stroke="#000000"/>
<rect x="789.2" y="1599.23" width="64" height="25.33" fill="#ffffff" stroke="#000000"/>
<rect x="953.3" y="5.63" width="144" height="25.33" fill="#ffffff" stroke="#ff0000"/>
<rect x="979.87" y="56.43" width="90.67" height="25.33" fill="#ffffff" stroke="#000000"/>
<rect x="968.63" y="107.33" width="113.33" height="25.33" fill="#ffffff" stroke="#000000"/>
<rect x="973.77" y="333.73" width="102.67" height="25.33" fill="#ffffff" stroke="#ff0000"/>
<rect x="959.2" y="435.23" width="132" height="25.33" fill="#ffffff" stroke="#ff0000"/>
<rect x="953.15" y="509.83" width="144" height="25.33" fill="#ffffff" stroke="#ff0000"/>
<rect x="973.35" y="560.13" width="104" height="25.33" fill="#ffffff" stroke="#000000"/>
<rect x="981.1" y="610.63" width="88" height="25.33" fill="#ffffff" stroke="#000000"/>
<rect x="973.77" y="661.43" width="102.67" height="25.33" fill="#ffffff" stroke="#ff0000"/>
<rect x="954.02" y="712.53" width="142.67" height="25.33" fill="#ffffff" stroke="#000000"/>
<rect x="977.82" y="763.13" width="94.67" height="25.33" fill="#ffffff" stroke="#000000"/>
<rect x="946.58" y="813.83" width="157.33" height="25.33" fill="#ffffff" stroke="#000000"/>
<rect x="986.58" y="915.33" width="77.33" height="25.33" fill="#ffffff" stroke="#ff0000"/>
<rect x="977.15" y="965.83" width="96" height="25.33" fill="#ffffff" stroke="#ff0000"/>
<rect x="965.2" y="1016.63" width="120" height="25.33" fill="#ffffff" stroke="#000000"/>
<rect x="967.92" y="1067.13" width="114.67" height="25.33" fill="#ffffff" stroke="#ff0000"/>
<rect x="1001.1" y="1370.93" width="48" height="25.33" fill="#ffffff" stroke="#000000"/>
<rect x="989.77" y="1421.43" width="70.67" height="25.33" fill="#ffffff" stroke="#000000"/>
<rect x="1177.83" y="81.83" width="105.33" height="25.33" fill="#ffffff" stroke="#ff0000"/>
<rect x="1174.35" y="384.83" width="112" height="25.33" fill="#ffffff" stroke="#ff0000"/>
<rect x="1175.78" y="560.23" width="109.33" height="25.33" fill="#ffffff" stroke="#000000"/>
<rect x="1159.37" y="611.03" width="142.67" height="25.33" fill="#ffffff" stroke="#ff0000"/>
<rect x="1181.93" y="661.73" width="97.33" height="25.33" fill="#ffffff" stroke="#ff0000"/>
<rect x="1162.45" y="712.53" width="136" height="25.33" fill="#ffffff" stroke="#ff0000"/>
<rect x="1165.27" y="763.23" width="130.67" height="25.33" fill="#ffffff" stroke="#ff0000"/>
<rect x="1151.12" y="813.53" width="158.67" height="25.33" fill="#ffffff" stroke="#ff0000"/>
<rect x="1169.27" y="965.83" width="122.67" height="25.33" fill="#ffffff" stroke="#000000"/>
<rect x="1357.83" y="915.53" width="49.33" height="25.33" fill="#ffffff" stroke="#ff0000"/>
</g>
<g>
<text transform="translate(62.45,962.9)">polymorph_melt</text>
<text transform="translate(241.15,653.5)">draw_ext_info_format</text>
<text transform="translate(241.15,962.8)">free_object</text>
<text transform="translate(241.4,1640)">query_name</text>
<text transform="translate(426.7,1032.6)">free_object2</text>
<text transform="translate(426.7,1615.2)">query_short_name</text>
<text transform="translate(426.4,1716.4)">name_to_material</text>
<text transform="translate(617.15,778.9)">insert_ob_in_map</text>
<text transform="translate(617.2,829.5)">execute_event</text>
<text transform="translate(617.25,1032.2)">free_dialog_information</text>
<text transform="translate(617.15,1184.2)">find_free_spot</text>
<text transform="translate(617.35,1336.1)">free_arch</text>
<text transform="translate(617.05,1538.7)">need_identify</text>
<text transform="translate(617.2,1640.2)">ring_desc</text>
<text transform="translate(617.15,1691)">is_magical</text>
<text transform="translate(617.15,1741.8)">safe_strcat</text>
<text transform="translate(821.15,173.9)">draw_ext_info</text>
<text transform="translate(821.1,728.2)">remove_ob</text>
<text transform="translate(821.2,1235.1)">remove_friendly_object</text>
<text transform="translate(821.15,1336.7)">free_key_values</text>
<text transform="translate(821.25,1412.2)">play_sound_map</text>
<text transform="translate(821.2,1615)">snprintf</text>
<text transform="translate(1025.3,21.4)">check_output_buffers</text>
<text transform="translate(1025.2,72.2)">strdup_local</text>
<text transform="translate(1025.3,123.1)">strip_media_tag</text>
<text transform="translate(1025.1,349.5)">update_object</text>
<text transform="translate(1025.2,451)">esrv_print_ext_msg</text>
<text transform="translate(1025.15,525.6)">get_map_from_coord</text>
<text transform="translate(1025.35,575.9)">update_all_los</text>
<text transform="translate(1025.1,626.4)">sub_weight</text>
<text transform="translate(1025.1,677.2)">esrv_del_item</text>
<text transform="translate(1025.35,728.3)">get_player_container</text>
<text transform="translate(1025.15,778.9)">ob_move_on</text>
<text transform="translate(1025.25,829.6)">play_sound_player_only</text>
<text transform="translate(1025.25,931.1)">fix_object</text>
<text transform="translate(1025.15,981.6)">dump_object</text>
<text transform="translate(1025.2,1032.4)">stringbuffer_finish</text>
<text transform="translate(1025.25,1082.9)">stringbuffer_new</text>
<text transform="translate(1025.1,1386.7)">isqrt</text>
<text transform="translate(1025.1,1437.2)">distance</text>
<text transform="translate(1230.5,97.6)">print_message</text>
<text transform="translate(1230.35,400.6)">update_position</text>
<text transform="translate(1230.45,576)">SockList_Term</text>
<text transform="translate(1230.7,626.8)">Send_With_Handling</text>
<text transform="translate(1230.6,677.5)">SockList_Init</text>
<text transform="translate(1230.45,728.3)">SockList_AddString</text>
<text transform="translate(1230.6,779)">SockList_AddChar</text>
<text transform="translate(1230.45,829.3)">SockList_AddLen8Data</text>
<text transform="translate(1230.6,981.6)">update_ob_speed</text>
<text transform="translate(1382.5,931.3)">LOG</text>
</g>
</svg>
</body></html>
